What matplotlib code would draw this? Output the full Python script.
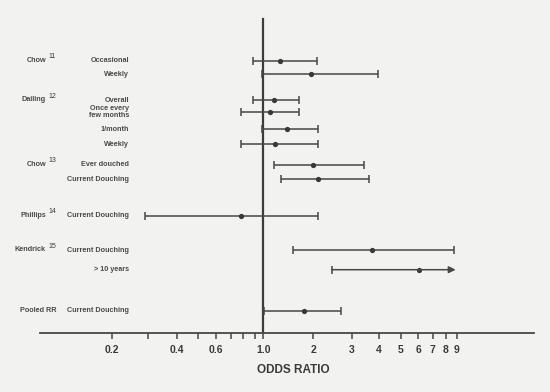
import numpy as np
import matplotlib
matplotlib.use('Agg')
import matplotlib.pyplot as plt
from matplotlib.transforms import blended_transform_factory

plt.rcParams['font.family'] = ['Liberation Sans', 'DejaVu Sans']

# Study / subgroup rows (top to bottom)
studies = ['Chow', 'Dailing', 'Chow', 'Phillips', 'Kendrick', 'Pooled RR']
study_refs = ['11', '12', '13', '14', '15', '']
study_rows = [0, 2, 6, 8, 9, 11]
subgroups = ['Occasional', 'Weekly', 'Overall', 'Once every\nfew months',
             '1/month', 'Weekly', 'Ever douched', 'Current Douching',
             'Current Douching', 'Current Douching', '> 10 years',
             'Current Douching']
odds = [1.26, 1.94, 1.16, 1.09, 1.38, 1.18, 2.0, 2.1, 0.78, 3.73, 6.05, 1.75]
ci_low = [0.88, 0.98, 0.88, 0.78, 0.98, 0.78, 1.16, 1.27, 0.29, 1.5, 2.43, 1.01]
ci_high = [2.09, 3.97, 1.65, 1.65, 2.11, 2.11, 3.43, 3.61, 2.11, 8.78, 8.9, 2.68]
open_ended = [False] * 10 + [True, False]   # arrow instead of upper cap

tick_vals = [0.2, 0.3, 0.4, 0.5, 0.6, 0.7, 0.8, 0.9, 1.0, 2, 3, 4, 5, 6, 7, 8, 9]
tick_text = ['0.2', '', '0.4', '', '0.6', '', '', '', '1.0',
             '2', '3', '4', '5', '6', '7', '8', '9']

# the printed axis is not a clean log scale: map it piecewise from its ticks
knot_vals = [0.01] + tick_vals + [100]
knot_pos = [-170.6, 111.7, 148.3, 176.7, 198.3, 216, 231, 243.3, 255, 263.3,
            313.3, 351.7, 379, 400.7, 418.3, 432.7, 445.7, 456.7, 686.3]
knot_log = np.log10(knot_vals)


def fwd(x):
    x = np.asarray(x, dtype=float)
    lx = np.log10(np.clip(x, 1e-6, None))
    return np.interp(lx, knot_log, knot_pos)


def inv(p):
    return 10 ** np.interp(np.asarray(p, dtype=float), knot_pos, knot_log)


row_y = [60.7, 74.3, 100.3, 111.7, 129.3, 144.3, 164.7, 179.3,
         215.7, 250.3, 269.7, 310.7]

bg = '#f2f2f0'
ink = '#474747'
txt = '#3a3a3a'

W, H = 550, 392
fig = plt.figure(figsize=(5.5, 3.92), dpi=100, facecolor=bg)
axis_y = 332.7
ax = fig.add_axes([40 / W, (H - axis_y) / H, (534 - 40) / W, axis_y / H])
ax.set_facecolor(bg)
ax.set_xscale('function', functions=(fwd, inv))
ax.set_xlim(inv(40), inv(534))
ax.set_ylim(axis_y, 0)

for s in ['top', 'right', 'left']:
    ax.spines[s].set_visible(False)
ax.spines['bottom'].set_color(ink)
ax.spines['bottom'].set_linewidth(1.3)
ax.set_yticks([])
ax.set_xticks(tick_vals)
ax.set_xticklabels(tick_text)
ax.xaxis.set_minor_locator(matplotlib.ticker.NullLocator())
ax.tick_params(axis='x', direction='out', length=4, width=1.1, color=ink,
               pad=5, labelsize=7.5, labelcolor=txt)
for lab in ax.get_xticklabels():
    lab.set_fontweight('bold')

# reference line at OR = 1
ax.axvline(1.0, ymin=0, ymax=(axis_y - 19) / axis_y, color='#3c3c3c', lw=1.6)

for i in range(len(odds)):
    y = row_y[i]
    if open_ended[i]:
        ax.annotate('', xy=(ci_high[i], y), xytext=(ci_low[i], y),
                    arrowprops=dict(arrowstyle='-|>', color=ink, lw=1.1,
                                    mutation_scale=10, shrinkA=0, shrinkB=0))
        ax.plot([ci_low[i]], [y], marker='|', ms=5.5, mew=1.1, color=ink)
    else:
        ax.hlines(y, ci_low[i], ci_high[i], color=ink, lw=1.1)
        ax.plot([ci_low[i], ci_high[i]], [y, y], ls='none', marker='|',
                ms=5.5, mew=1.1, color=ink)
    ax.plot([odds[i]], [y], marker='o', ms=3.8, color='#383838', mec='none')

# row labels, x given in figure pixels
tr = blended_transform_factory(fig.transFigure, ax.transData)
for i, lab in enumerate(subgroups):
    ax.text(129 / W, row_y[i], lab, transform=tr, ha='right', va='center',
            fontsize=5.2, fontweight='bold', color='#4a4a4a', linespacing=1.0)

for name, ref, r in zip(studies, study_refs, study_rows):
    y = row_y[r]
    if ref:
        ax.text(46 / W, y - 0.5, name, transform=tr, ha='right', va='center',
                fontsize=5.2, fontweight='bold', color='#4a4a4a')
        ax.text(48 / W, y - 4, ref, transform=tr, ha='left', va='center',
                fontsize=5, color=txt)
    else:
        ax.text(57 / W, y - 0.5, name, transform=tr, ha='right', va='center',
                fontsize=5.2, fontweight='bold', color='#4a4a4a')

fig.text(293.7 / W, 1 - 370 / H, 'ODDS RATIO', ha='center', va='center',
         fontsize=8.5, fontweight='bold', color=txt)

fig.savefig('out.png', dpi=100, facecolor=bg)
